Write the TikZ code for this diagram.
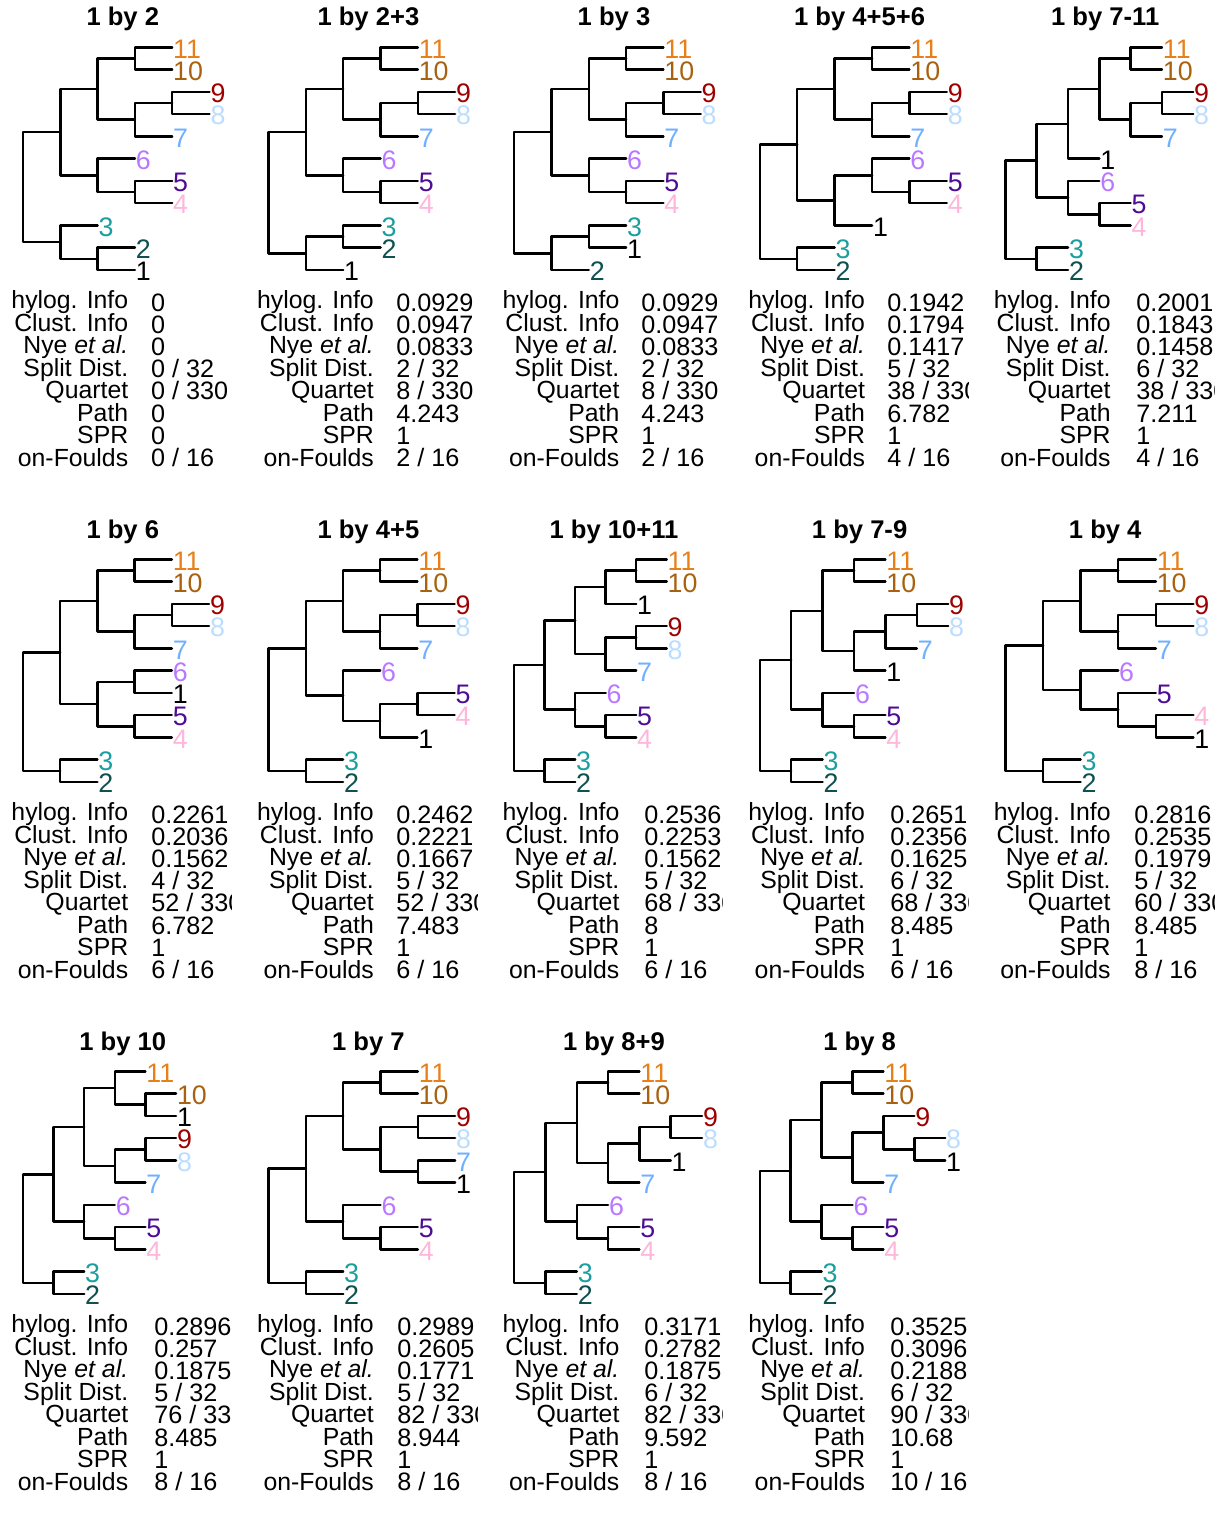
\documentclass[tikz,border=0pt]{standalone}
\usepackage{fontspec}
\setmainfont{Liberation Sans}
\definecolor{tc11}{HTML}{E8801A}
\definecolor{tc10}{HTML}{A8620F}
\definecolor{tc9}{HTML}{9C0000}
\definecolor{tc8}{HTML}{BBDDFF}
\definecolor{tc7}{HTML}{70B0FF}
\definecolor{tc6}{HTML}{B878FF}
\definecolor{tc5}{HTML}{4D0B96}
\definecolor{tc4}{HTML}{FFB6DB}
\definecolor{tc3}{HTML}{1A9E9E}
\definecolor{tc2}{HTML}{0F5050}
\definecolor{tc1}{HTML}{000000}
\newcommand\bn[3]{\draw[br] ({#1+1},{#2}) -- ({#1},{#2}) -- ({#1},{#3}) -- ({#1+1},{#3});}
\newcommand\tp[3]{\node[tip,text=tc#3] (\pn t#3) at ({#1},{#2}) {#3};}
\newcommand\topC[1]{\bn{#1}{0.5}{3.25}\bn{#1+1}{0}{1}\bn{#1+1}{2.5}{4}\bn{#1+2}{2}{3}%
\tp{#1+2}{0}{11}\tp{#1+2}{1}{10}\tp{#1+3}{2}{9}\tp{#1+3}{3}{8}\tp{#1+2}{4}{7}}
\newcommand\cladeD[1]{\bn{2}{#1}{#1+1.5}\bn{3}{#1+1}{#1+2}\tp{3}{#1}{6}\tp{4}{#1+1}{5}\tp{4}{#1+2}{4}}
\newcommand\botB{\bn{1}{9}{10}\tp{2}{9}{3}\tp{2}{10}{2}}
\newcommand\stats[9]{%
\node[lab] (\pn l1) at (128.6,308.5) {hylog. Info};
\node[lab] (\pn l2) at (128.6,331) {Clust. Info};
\node[lab] (\pn l3) at (128.6,353.5) {Nye \textit{et al.}};
\node[lab] (\pn l4) at (128.6,376) {Split Dist.};
\node[lab] (\pn l5) at (128.6,398.5) {Quartet};
\node[lab] (\pn l6) at (128.6,421) {Path};
\node[lab] (\pn l7) at (128.6,443.5) {SPR};
\node[lab] (\pn l8) at (128.6,466) {on-Foulds};
\begin{scope}
\clip (0,280) rectangle (231.6,490);
\node[val] (\pn v1) at (#1,311) {#2};
\node[val] (\pn v2) at (#1,333.2) {#3};
\node[val] (\pn v3) at (#1,355.4) {#4};
\node[val] (\pn v4) at (#1,377.6) {#5};
\node[val] (\pn v5) at (#1,399.8) {#6};
\node[val] (\pn v6) at (#1,422) {#7};
\node[val] (\pn v7) at (#1,444.2) {#8};
\node[val] (\pn v8) at (#1,466.4) {#9};
\end{scope}}
\begin{document}
\begin{tikzpicture}[x=0.5pt,y=-0.5pt,
 br/.style={line width=1.25pt,line cap=round,line join=round},
 tip/.style={anchor=west,inner sep=0pt,font=\fontsize{13.4}{14}\selectfont,yshift=-0.75pt,xshift=0.3pt},
 ttl/.style={anchor=base,inner sep=0pt,font=\fontsize{12.8}{14}\selectfont\bfseries},
 lab/.style={anchor=base east,inner sep=0pt,text height=0.66em,text depth=0pt,font=\fontsize{12.4}{14}\selectfont},
 val/.style={anchor=base west,inner sep=0pt,text height=0.66em,text depth=0pt,font=\fontsize{12.6}{14}\selectfont}]
\useasboundingbox (0,0) rectangle (1228,1536);

% ---------- row 1 ----------
\def\pn{p1}
\begin{scope}[shift={(0,0)}]
\node[ttl] (\pn h) at (122.8,26) {1 by 2};
\begin{scope}[shift={(23,47.3)},x=18.65pt,y=-11.135pt]
\bn{0}{3.8125}{8.75}\bn{1}{1.875}{5.75}\topC{2}\cladeD{5}
\bn{1}{8}{9.5}\bn{2}{9}{10}\tp{2}{8}{3}\tp{3}{9}{2}\tp{3}{10}{1}
\end{scope}
\stats{150.8}{0}{0}{0}{0 / 32}{0 / 330}{0}{0}{0 / 16}
\end{scope}

\def\pn{p2}
\begin{scope}[shift={(245.6,0)}]
\node[ttl] (\pn h) at (122.8,26) {1 by 2+3};
\begin{scope}[shift={(23,47.3)},x=18.65pt,y=-11.135pt]
\bn{0}{3.8125}{9.25}\bn{1}{1.875}{5.75}\topC{2}\cladeD{5}
\bn{1}{8.5}{10}\bn{2}{8}{9}\tp{3}{8}{3}\tp{3}{9}{2}\tp{2}{10}{1}
\end{scope}
\stats{150.4}{0.0929}{0.0947}{0.0833}{2 / 32}{8 / 330}{4.243}{1}{2 / 16}
\end{scope}

\def\pn{p3}
\begin{scope}[shift={(491.2,0)}]
\node[ttl] (\pn h) at (122.8,26) {1 by 3};
\begin{scope}[shift={(23,47.3)},x=18.65pt,y=-11.135pt]
\bn{0}{3.8125}{9.25}\bn{1}{1.875}{5.75}\topC{2}\cladeD{5}
\bn{1}{8.5}{10}\bn{2}{8}{9}\tp{3}{8}{3}\tp{3}{9}{1}\tp{2}{10}{2}
\end{scope}
\stats{149.8}{0.0929}{0.0947}{0.0833}{2 / 32}{8 / 330}{4.243}{1}{2 / 16}
\end{scope}

\def\pn{p4}
\begin{scope}[shift={(736.8,0)}]
\node[ttl] (\pn h) at (122.8,26) {1 by 4+5+6};
\begin{scope}[shift={(23,47.3)},x=18.7pt,y=-11.135pt]
\bn{0}{4.375}{9.5}\bn{1}{1.875}{6.875}\topC{2}
\bn{2}{5.75}{8}\bn{3}{5}{6.5}\bn{4}{6}{7}
\tp{4}{5}{6}\tp{5}{6}{5}\tp{5}{7}{4}\tp{3}{8}{1}
\botB
\end{scope}
\stats{150.2}{0.1942}{0.1794}{0.1417}{5 / 32}{38 / 330}{6.782}{1}{4 / 16}
\end{scope}

\def\pn{p5}
\begin{scope}[shift={(982.4,0)}]
\node[ttl] (\pn h) at (122.8,26) {1 by 7-11};
\begin{scope}[shift={(23,47.3)},x=15.65pt,y=-11.135pt]
\bn{0}{5.09375}{9.5}\bn{1}{3.4375}{6.75}\bn{2}{1.875}{5}\topC{3}\tp{3}{5}{1}
\cladeD{6}\botB
\end{scope}
\stats{153.6}{0.2001}{0.1843}{0.1458}{6 / 32}{38 / 330}{7.211}{1}{4 / 16}
\end{scope}

% ---------- row 2 ----------
\def\pn{p6}
\begin{scope}[shift={(0,512)}]
\node[ttl] (\pn h) at (122.8,26) {1 by 6};
\begin{scope}[shift={(23,47.3)},x=18.6pt,y=-11.135pt]
\bn{0}{4.1875}{9.5}\bn{1}{1.875}{6.5}\topC{2}
\bn{2}{5.5}{7.5}\bn{3}{5}{6}\bn{3}{7}{8}
\tp{4}{5}{6}\tp{4}{6}{1}\tp{4}{7}{5}\tp{4}{8}{4}
\botB
\end{scope}
\stats{151}{0.2261}{0.2036}{0.1562}{4 / 32}{52 / 330}{6.782}{1}{6 / 16}
\end{scope}

\def\pn{p7}
\begin{scope}[shift={(245.6,512)}]
\node[ttl] (\pn h) at (122.8,26) {1 by 4+5};
\begin{scope}[shift={(23,47.3)},x=18.6pt,y=-11.135pt]
\bn{0}{4}{9.5}\bn{1}{1.875}{6.125}\topC{2}
\bn{2}{5}{7.25}\bn{3}{6.5}{8}\bn{4}{6}{7}
\tp{3}{5}{6}\tp{5}{6}{5}\tp{5}{7}{4}\tp{4}{8}{1}
\botB
\end{scope}
\stats{150.4}{0.2462}{0.2221}{0.1667}{5 / 32}{52 / 330}{7.483}{1}{6 / 16}
\end{scope}

\def\pn{p8}
\begin{scope}[shift={(491.2,512)}]
\node[ttl] (\pn h) at (122.8,26) {1 by 10+11};
\begin{scope}[shift={(23,47.3)},x=15.25pt,y=-11.135pt]
\bn{0}{4.75}{9.5}\bn{1}{2.75}{6.75}\bn{2}{1.25}{4.25}\bn{3}{0.5}{2}\bn{4}{0}{1}
\bn{3}{3.5}{5}\bn{4}{3}{4}
\tp{5}{0}{11}\tp{5}{1}{10}\tp{4}{2}{1}\tp{5}{3}{9}\tp{5}{4}{8}\tp{4}{5}{7}
\cladeD{6}\botB
\end{scope}
\stats{152.8}{0.2536}{0.2253}{0.1562}{5 / 32}{68 / 330}{8}{1}{6 / 16}
\end{scope}

\def\pn{p9}
\begin{scope}[shift={(736.8,512)}]
\node[ttl] (\pn h) at (122.8,26) {1 by 7-9};
\begin{scope}[shift={(23,47.3)},x=15.7pt,y=-11.135pt]
\bn{0}{4.53125}{9.5}\bn{1}{2.3125}{6.75}\bn{2}{0.5}{4.125}\bn{3}{0}{1}
\bn{3}{3.25}{5}\bn{4}{2.5}{4}\bn{5}{2}{3}
\tp{4}{0}{11}\tp{4}{1}{10}\tp{6}{2}{9}\tp{6}{3}{8}\tp{5}{4}{7}\tp{4}{5}{1}
\cladeD{6}\botB
\end{scope}
\stats{153.2}{0.2651}{0.2356}{0.1625}{6 / 32}{68 / 330}{8.485}{1}{6 / 16}
\end{scope}

\def\pn{p10}
\begin{scope}[shift={(982.4,512)}]
\node[ttl] (\pn h) at (122.8,26) {1 by 4};
\begin{scope}[shift={(23,47.3)},x=18.8pt,y=-11.135pt]
\bn{0}{3.875}{9.5}\bn{1}{1.875}{5.875}\topC{2}
\bn{2}{5}{6.75}\bn{3}{6}{7.5}\bn{4}{7}{8}
\tp{3}{5}{6}\tp{4}{6}{5}\tp{5}{7}{4}\tp{5}{8}{1}
\botB
\end{scope}
\stats{151.6}{0.2816}{0.2535}{0.1979}{5 / 32}{60 / 330}{8.485}{1}{8 / 16}
\end{scope}

% ---------- row 3 ----------
\def\pn{p11}
\begin{scope}[shift={(0,1024)}]
\node[ttl] (\pn h) at (122.8,26) {1 by 10};
\begin{scope}[shift={(23,47.3)},x=15.3pt,y=-11.135pt]
\bn{0}{4.625}{9.5}\bn{1}{2.5}{6.75}\bn{2}{0.75}{4.25}\bn{3}{0}{1.5}\bn{4}{1}{2}
\bn{3}{3.5}{5}\bn{4}{3}{4}
\tp{4}{0}{11}\tp{5}{1}{10}\tp{5}{2}{1}\tp{5}{3}{9}\tp{5}{4}{8}\tp{4}{5}{7}
\cladeD{6}\botB
\end{scope}
\stats{154}{0.2896}{0.257}{0.1875}{5 / 32}{76 / 330}{8.485}{1}{8 / 16}
\end{scope}

\def\pn{p12}
\begin{scope}[shift={(245.6,1024)}]
\node[ttl] (\pn h) at (122.8,26) {1 by 7};
\begin{scope}[shift={(23,47.3)},x=18.65pt,y=-11.135pt]
\bn{0}{4.375}{9.5}\bn{1}{2}{6.75}\bn{2}{0.5}{3.5}\bn{3}{0}{1}
\bn{3}{2.5}{4.5}\bn{4}{2}{3}\bn{4}{4}{5}
\tp{4}{0}{11}\tp{4}{1}{10}\tp{5}{2}{9}\tp{5}{3}{8}\tp{5}{4}{7}\tp{5}{5}{1}
\cladeD{6}\botB
\end{scope}
\stats{151.4}{0.2989}{0.2605}{0.1771}{5 / 32}{82 / 330}{8.944}{1}{8 / 16}
\end{scope}

\def\pn{p13}
\begin{scope}[shift={(491.2,1024)}]
\node[ttl] (\pn h) at (122.8,26) {1 by 8+9};
\begin{scope}[shift={(23,47.3)},x=15.65pt,y=-11.135pt]
\bn{0}{4.53125}{9.5}\bn{1}{2.3125}{6.75}\bn{2}{0.5}{4.125}\bn{3}{0}{1}
\bn{3}{3.25}{5}\bn{4}{2.5}{4}\bn{5}{2}{3}
\tp{4}{0}{11}\tp{4}{1}{10}\tp{6}{2}{9}\tp{6}{3}{8}\tp{5}{4}{1}\tp{4}{5}{7}
\cladeD{6}\botB
\end{scope}
\stats{152.8}{0.3171}{0.2782}{0.1875}{6 / 32}{82 / 330}{9.592}{1}{8 / 16}
\end{scope}

\def\pn{p14}
\begin{scope}[shift={(736.8,1024)}]
\node[ttl] (\pn h) at (122.8,26) {1 by 8};
\begin{scope}[shift={(23,47.3)},x=15.45pt,y=-11.135pt]
\bn{0}{4.46875}{9.5}\bn{1}{2.1875}{6.75}\bn{2}{0.5}{3.875}\bn{3}{0}{1}
\bn{3}{2.75}{5}\bn{4}{2}{3.5}\bn{5}{3}{4}
\tp{4}{0}{11}\tp{4}{1}{10}\tp{5}{2}{9}\tp{6}{3}{8}\tp{6}{4}{1}\tp{4}{5}{7}
\cladeD{6}\botB
\end{scope}
\stats{153.2}{0.3525}{0.3096}{0.2188}{6 / 32}{90 / 330}{10.68}{1}{10 / 16}
\end{scope}
\end{tikzpicture}
\end{document}
